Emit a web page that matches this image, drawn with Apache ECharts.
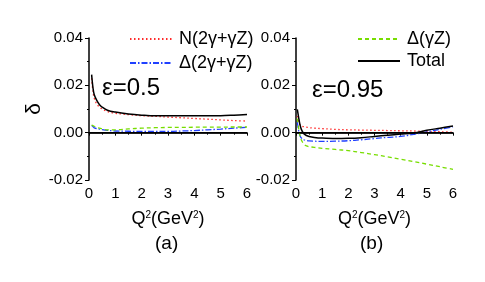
<!DOCTYPE html>
<html><head><meta charset="utf-8">
<script src="https://cdn.jsdelivr.net/npm/echarts@6/dist/echarts.min.js"></script>
<style>html,body{margin:0;padding:0;background:#fff}#c{width:485px;height:282px}</style>
</head><body><div id="c"></div>
<script>
// Panel (a): epsilon = 0.5
const qA = [0.1,0.15,0.2,0.3,0.4,0.5,0.7,1,1.5,2,2.5,3,3.5,4,4.5,5,5.5,6];
const nA = [0.023,0.0175,0.0145,0.012,0.0108,0.0100,0.0089,0.0082,0.0076,0.0072,0.0069,0.0066,0.0063,0.0060,0.0057,0.0054,0.0051,0.0049];
const dA = [0.0030,0.0026,0.0020,0.0017,0.0015,0.0013,0.0010,0.0007,0.0006,0.0005,0.0005,0.0005,0.0007,0.0009,0.0012,0.0015,0.0019,0.0023];
const gA = [0.0032,0.0030,0.0027,0.0022,0.0019,0.0016,0.0012,0.0012,0.0016,0.0019,0.0021,0.0022,0.0022,0.0023,0.0023,0.0023,0.0024,0.0024];
const tA = [0.0245,0.019,0.0160,0.0135,0.0118,0.0108,0.0095,0.0087,0.0079,0.0074,0.0071,0.0071,0.0071,0.0071,0.0072,0.0072,0.0074,0.0077];
// Panel (b): epsilon = 0.95
const qB = [0.05,0.1,0.15,0.2,0.3,0.4,0.5,0.7,1,1.5,2,2.5,3,3.5,4,4.5,5,5.5,6];
const nB = [0.007,0.0045,0.0034,0.0029,0.0025,0.0023,0.0021,0.0019,0.0017,0.0014,0.0012,0.0011,0.0010,0.0009,0.0008,0.0007,0.0005,0.0004,0.0002];
const dB = [0.0045,0.0010,-0.0012,-0.0022,-0.0030,-0.0033,-0.0035,-0.0036,-0.0037,-0.0036,-0.0034,-0.0030,-0.0025,-0.0020,-0.0016,-0.0007,0.0003,0.0014,0.0025];
const gB = [0.006,0.002,-0.001,-0.003,-0.0048,-0.0056,-0.0059,-0.0062,-0.0066,-0.0071,-0.0076,-0.0084,-0.0093,-0.0102,-0.0112,-0.0122,-0.0133,-0.0144,-0.0155];
const tB = [0.0098,0.0065,0.0035,0.0015,-0.0005,-0.0012,-0.0016,-0.0020,-0.0023,-0.0025,-0.0024,-0.0021,-0.0016,-0.0011,-0.0006,-0.0001,0.0010,0.0019,0.0028];
const zeroX = [0,6];
const zeroY = [0,0];
const xTicks = ['0','1','2','3','4','5','6'];
const yTicks = ['-0.02','0.00','0.02','0.04'];
const names = {n:'N(2γ+γZ)', d:'Δ(2γ+γZ)', g:'Δ(γZ)', t:'Total'};

const FONT = 'Liberation Sans, Arial, sans-serif';
const zip = (x,y)=>x.map((v,i)=>[v,y[i]]);
const styles = {
  n:{color:'#ff2a2a', width:1.3, type:[1.5,2.5]},
  d:{color:'#2040ff', width:1.3, type:[6,2,1.5,2]},
  g:{color:'#77dd00', width:1.3, type:[4,3]},
  t:{color:'#000000', width:1.5, type:'solid'}
};
function mk(key, idx, q, vals){
  return {name:names[key], type:'line', xAxisIndex:idx, yAxisIndex:idx, data:zip(q,vals),
    smooth:0.35, symbol:'none', lineStyle:styles[key], itemStyle:{color:styles[key].color}, z: key==='t'?5:3};
}
function xAx(idx){
  return {type:'value', gridIndex:idx, min:0, max:6, interval:1,
    axisLine:{show:true, lineStyle:{color:'#000', width:1.5}},
    axisTick:{show:true, length:3, lineStyle:{color:'#000'}},
    minorTick:{show:true, splitNumber:2, length:2, lineStyle:{color:'#000'}},
    splitLine:{show:false},
    axisLabel:{margin:6, fontSize:15, color:'#000', fontFamily:FONT, formatter:(v)=>xTicks[Math.round(v)]},
    name:'Q{s|2}(GeV{s|2})', nameLocation:'middle', nameGap:30,
    nameTextStyle:{fontSize:18, color:'#000', fontFamily:FONT,
      rich:{s:{fontSize:10, verticalAlign:'top', lineHeight:10, padding:[0,0,8,0], fontFamily:FONT, color:'#000'}}}
  };
}
function yAx(idx, withName){
  return {type:'value', gridIndex:idx, min:-0.02, max:0.04, interval:0.02,
    axisLine:{show:true, onZero:false, lineStyle:{color:'#000', width:1.5}},
    axisTick:{show:true, length:4, lineStyle:{color:'#000'}},
    minorTick:{show:true, splitNumber:2, length:2, lineStyle:{color:'#000'}},
    splitLine:{show:false},
    axisLabel:{margin:6, fontSize:15, color:'#000', fontFamily:FONT, formatter:(v)=>yTicks[Math.round((v+0.02)/0.02)]},
    name: withName ? 'δ' : '', nameLocation:'middle', nameGap:33, nameRotate:90,
    nameTextStyle:{fontSize:21, color:'#000', fontFamily:FONT}
  };
}
const zeroLine = (idx)=>({type:'line', xAxisIndex:idx, yAxisIndex:idx, data:zip(zeroX,zeroY), symbol:'none',
  lineStyle:{color:'#000', width:1.5}, silent:true, z:4, legendHoverLink:false});

const legendCommon = {orient:'vertical', itemWidth:42, itemHeight:18, selectedMode:false,
  itemStyle:{opacity:0},
  textStyle:{fontSize:18, color:'#000', fontFamily:FONT, padding:[0,0,0,2]}};

const chart = echarts.init(document.getElementById('c'), null, {renderer:'canvas'});
chart.setOption({
  animation:false,
  backgroundColor:'#fff',
  grid:[{left:89, top:38, width:158, height:142},{left:296, top:38, width:157, height:142}],
  xAxis:[xAx(0), xAx(1)],
  yAxis:[yAx(0,true), yAx(1,false)],
  legend:[
    Object.assign({data:[names.n, names.d], left:124, top:25, itemGap:6}, legendCommon),
    Object.assign({data:[names.g, names.t], left:352, top:25, itemGap:4}, legendCommon)
  ],
  graphic:[
    {type:'text', left:102, top:76, style:{text:'ε=0.5', fontSize:24, fill:'#000', fontFamily:FONT}},
    {type:'text', left:312, top:78, style:{text:'ε=0.95', fontSize:24, fill:'#000', fontFamily:FONT}},
    {type:'text', left:155, top:234, style:{text:'(a)', fontSize:19, fill:'#000', fontFamily:FONT}},
    {type:'text', left:360, top:234, style:{text:'(b)', fontSize:19, fill:'#000', fontFamily:FONT}}
  ],
  series:[
    zeroLine(0), zeroLine(1),
    mk('n',0,qA,nA), mk('d',0,qA,dA), mk('g',0,qA,gA), mk('t',0,qA,tA),
    mk('n',1,qB,nB), mk('d',1,qB,dB), mk('g',1,qB,gB), mk('t',1,qB,tB)
  ]
});
</script></body></html>
